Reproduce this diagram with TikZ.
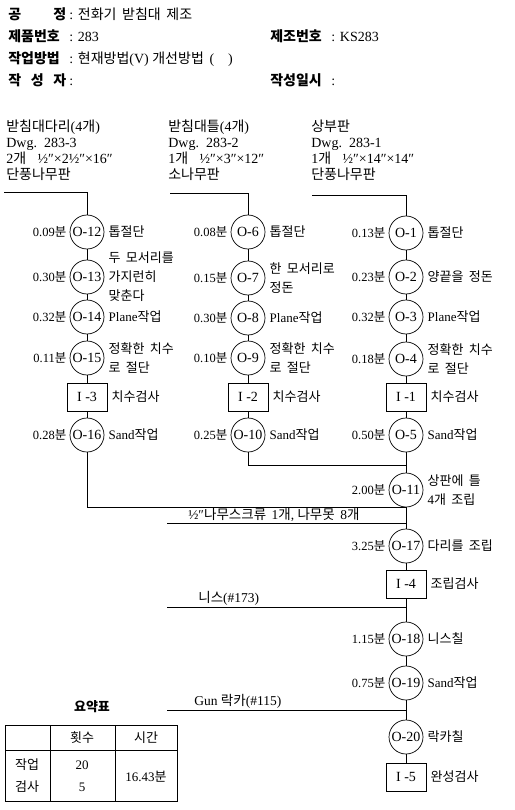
\documentclass[tikz,border=0pt]{standalone}
\usepackage{fontspec}
\setmainfont{Liberation Serif}
\newfontfamily\krfont[WordSpace=1.8]{Noto Sans CJK KR}
% Hangul in the CJK face, everything else in the serif face
\XeTeXinterchartokenstate=1
\newXeTeXintercharclass\krclass
\count255="AC00
\loop
  \XeTeXcharclass\count255=\krclass
  \ifnum\count255<"D7A3 \advance\count255 by 1 \repeat
\XeTeXinterchartoks 0 \krclass = {\krfont}
\XeTeXinterchartoks 4095 \krclass = {\krfont}
\XeTeXinterchartoks \krclass 0 = {\rmfamily}
\XeTeXinterchartoks 4095 0 = {\rmfamily}
\newcommand\hdlab[1]{\makebox[61pt][l]{\bfseries #1}}

\begin{document}
\begin{tikzpicture}[x=1pt, y=-1pt, line width=0.7pt,
  op/.style={draw, circle, minimum size=34, inner sep=0pt, font=\fontsize{14}{14}\selectfont},
  insp/.style={draw, rectangle, minimum width=40, minimum height=28, inner sep=0pt, font=\fontsize{14}{14}\selectfont},
  tm/.style={anchor=east, inner sep=1pt, xshift=-2, font=\fontsize{12.5}{13}\selectfont},
  desc/.style={anchor=west, inner sep=1pt, xshift=3, align=left, font=\fontsize{13}{19}\selectfont},
  hd/.style={anchor=west, inner sep=0pt, font=\fontsize{14}{15}\selectfont},
  mat/.style={anchor=north west, inner sep=0pt, align=left, font=\fontsize{14}{16}\selectfont},
  sup/.style={anchor=south west, inner sep=1pt, font=\fontsize{13.5}{14}\selectfont}]
  \useasboundingbox[fill=white] (0,0) rectangle (514,810);
  % header
  \node[hd] (hd1) at (8,14) {\hdlab{공\hfill 정\hspace*{3pt}}: 전화기 받침대 제조};
  \node[hd] (hd2) at (8,36) {\hdlab{제품번호}: 283};
  \node[hd] (hd3) at (270,36) {\hdlab{제조번호}: KS283};
  \node[hd] (hd4) at (8,59) {\hdlab{작업방법}: 현재방법(V) 개선방법 (\quad)};
  \node[hd] (hd5) at (8,80) {\hdlab{작\hfill 성\hfill 자\hspace*{3pt}}:};
  \node[hd] (hd6) at (270,80) {\hdlab{작성일시}:};
  % materials
  \node[mat] (mt1) at (6,120) {받침대다리(4개)\\Dwg.~~283-3\\2개~~½″×2½″×16″\\단풍나무판};
  \node[mat] (mt2) at (168,120) {받침대틀(4개)\\Dwg.~~283-2\\1개~~½″×3″×12″\\소나무판};
  \node[mat] (mt3) at (311,120) {상부판\\Dwg.~~283-1\\1개~~½″×14″×14″\\단풍나무판};
  \coordinate (m1) at (4,192);
  \coordinate (m2) at (170,193);
  \coordinate (m3) at (312,195);
  % column 1
  \node[op] (o12) at (87,232) {O-12};
  \node[op] (o13) at (87,277) {O-13};
  \node[op] (o14) at (87,317) {O-14};
  \node[op] (o15) at (87,358) {O-15};
  \node[insp] (i3) at (87,397) {I -3};
  \node[op] (o16) at (87,435) {O-16};
  % column 2
  \node[op] (o6) at (248,232) {O-6};
  \node[op] (o7) at (248,278) {O-7};
  \node[op] (o8) at (248,318) {O-8};
  \node[op] (o9) at (248,358) {O-9};
  \node[insp] (i2) at (248,397) {I -2};
  \node[op] (o10) at (248,435) {O-10};
  % column 3 and main line
  \node[op] (o1) at (406,233) {O-1};
  \node[op] (o2) at (406,277) {O-2};
  \node[op] (o3) at (406,317) {O-3};
  \node[op] (o4) at (406,359) {O-4};
  \node[insp] (i1) at (406,397) {I -1};
  \node[op] (o5) at (406,435) {O-5};
  \node[op] (o11) at (406,490) {O-11};
  \node[op] (o17) at (406,546) {O-17};
  \node[insp] (i4) at (406,584) {I -4};
  \node[op] (o18) at (406,639) {O-18};
  \node[op] (o19) at (406,683) {O-19};
  \node[op] (o20) at (406,737) {O-20};
  \node[insp] (i5) at (406,777) {I -5};
  \coordinate (j1) at (406,465);
  \coordinate (j2) at (406,507);
  \coordinate (s1) at (167,523);
  \coordinate (s2) at (406,523);
  \coordinate (n1) at (167,607);
  \coordinate (n2) at (406,607);
  \coordinate (g1) at (167,710);
  \coordinate (g2) at (406,710);
  % times
  \foreach \n/\t in {o12/0.09, o13/0.30, o14/0.32, o15/0.11, o16/0.28,
                     o6/0.08, o7/0.15, o8/0.30, o9/0.10, o10/0.25,
                     o1/0.13, o2/0.23, o3/0.32, o4/0.18, o5/0.50,
                     o11/2.00, o17/3.25, o18/1.15, o19/0.75}
    \node[tm] at (\n.west) {\t 분};
  % descriptions
  \node[desc] at (o12.east) {톱절단};
  \node[desc] at (o13.east) {두 모서리를\\가지런히\\맞춘다};
  \node[desc] at (o14.east) {Plane작업};
  \node[desc] at (o15.east) {정확한 치수\\로 절단};
  \node[desc] at (i3.east) {치수검사};
  \node[desc] at (o16.east) {Sand작업};
  \node[desc] at (o6.east) {톱절단};
  \node[desc] at (o7.east) {한 모서리로\\정돈};
  \node[desc] at (o8.east) {Plane작업};
  \node[desc] at (o9.east) {정확한 치수\\로 절단};
  \node[desc] at (i2.east) {치수검사};
  \node[desc] at (o10.east) {Sand작업};
  \node[desc] at (o1.east) {톱절단};
  \node[desc] at (o2.east) {양끝을 정돈};
  \node[desc] at (o3.east) {Plane작업};
  \node[desc] at (o4.east) {정확한 치수\\로 절단};
  \node[desc] at (i1.east) {치수검사};
  \node[desc] at (o5.east) {Sand작업};
  \node[desc] at (o11.east) {상판에 틀\\4개 조립};
  \node[desc] at (o17.east) {다리를 조립};
  \node[desc] at (i4.east) {조립검사};
  \node[desc] at (o18.east) {니스칠};
  \node[desc] at (o19.east) {Sand작업};
  \node[desc] at (o20.east) {락카칠};
  \node[desc] at (i5.east) {완성검사};
  % connectors
  \draw (m1) -| (o12);
  \draw (m2) -| (o6);
  \draw (m3) -| (o1);
  \foreach \a/\b in {o12/o13, o13/o14, o14/o15, o15/i3, i3/o16,
                     o6/o7, o7/o8, o8/o9, o9/i2, i2/o10,
                     o1/o2, o2/o3, o3/o4, o4/i1, i1/o5, o5/o11, o11/o17,
                     o17/i4, i4/o18, o18/o19, o19/o20, o20/i5}
    \draw (\a) -- (\b);
  \draw (o10) |- (j1);
  \draw (o16) |- (j2);
  \draw (s1) -- (s2);
  \draw (n1) -- (n2);
  \draw (g1) -- (g2);
  \node[sup] (sl) at ([xshift=20]s1) {½″나무스크류 1개, 나무못 8개};
  \node[sup] (nl) at ([xshift=30]n1) {니스(\#173)};
  \node[sup] (gl) at ([xshift=26]g1) {Gun 락카(\#115)};
  % summary table
  \node[font=\fontsize{13}{14}\selectfont\bfseries] (tt) at (92,707) {요약표};
  \draw (5,725) rectangle (177,801);
  \draw (50,725) -- (50,801);
  \draw (115,725) -- (115,801);
  \draw (5,750) -- (177,750);
  \begin{scope}[font=\fontsize{13}{14}\selectfont]
    \node (h1) at (82,738) {횟수};
    \node (h2) at (146,738) {시간};
    \node (r1) at (27,765) {작업};
    \node (r2) at (27,787) {검사};
    \node (c1) at (82,765) {20};
    \node (c2) at (82,787) {5};
    \node (c3) at (146,777) {16.43분};
  \end{scope}
\end{tikzpicture}
\end{document}
